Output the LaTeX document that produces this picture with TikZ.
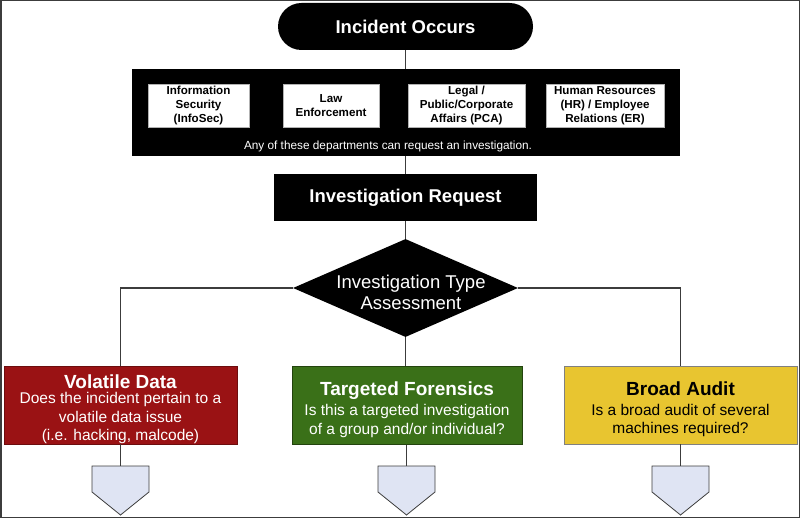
\documentclass[tikz,border=0pt]{standalone}
\usepackage{fontspec}
\setmainfont{Liberation Sans}
\usetikzlibrary{shapes.misc,shapes.geometric,positioning,calc}
\definecolor{volatilered}{RGB}{154,18,20}
\definecolor{forensicgreen}{RGB}{58,112,24}
\definecolor{audityellow}{RGB}{232,197,48}
\definecolor{arrowblue}{RGB}{223,228,243}
\definecolor{linegray}{RGB}{60,60,60}

\begin{document}
\begin{tikzpicture}[x=1pt,y=-1pt,
    blackbox/.style={fill=black, text=white, inner sep=0pt},
    deptbox/.style={fill=white, draw=black!30, inner sep=0pt, minimum height=43, align=center, font=\fontsize{11.6}{14}\selectfont\bfseries},
    casebox/.style={inner sep=0pt, minimum width=233, minimum height=78, align=center, font=\fontsize{15.5}{18.5}\selectfont},
    link/.style={linegray, line width=1.3pt},
    downarrow/.style={fill=arrowblue, draw=linegray, line width=0.8pt}]
        % frame
        \useasboundingbox (0,0) rectangle (800,518);
        \draw[linegray, line width=1.5pt] (0.75,0.75) rectangle (799.25,517.25);

        % start and departments
        \node[blackbox, rounded rectangle, minimum width=255, minimum height=47, font=\fontsize{18.5}{22}\selectfont\bfseries] (occurs) at (405.5,26.5) {Incident Occurs};
        \node[blackbox, minimum width=548, minimum height=87] (depts) at (405.5,112.5) {};
        \node[deptbox, minimum width=101] (infosec) at (198.5,105.5) {Information\\Security\\(InfoSec)};
        \node[deptbox, minimum width=96] (law) at (331,105.5) {Law\\Enforcement};
        \node[deptbox, minimum width=117] (pca) at (466.5,105.5) {Legal /\\Public/Corporate\\Affairs (PCA)};
        \node[deptbox, minimum width=118] (hr) at (605,105.5) {Human Resources\\(HR) / Employee\\Relations (ER)};
        \node[text=white, inner sep=0pt, font=\fontsize{11.8}{14}\selectfont] (anydept) at (388,146) {Any of these departments can request an investigation.};

        % request and assessment
        \node[blackbox, minimum width=263, minimum height=47, font=\fontsize{18.5}{22}\selectfont\bfseries] (request) at (405.5,197.5) {Investigation Request};
        \node[diamond, fill=black, inner sep=0pt, minimum width=225, minimum height=98] (assess) at (405.5,288) {};
        \node[text=white, inner sep=0pt, align=center, font=\fontsize{18.5}{21}\selectfont] (assesstext) at (411,292) {Investigation Type\\Assessment};

        % investigation types
        \node[casebox, fill=volatilered, draw=volatilered!70!black, text=white] (volatile) at (120.5,405)
            {{\fontsize{19}{21}\selectfont\bfseries\rule{0pt}{22pt}Volatile Data}\\[-3pt]Does the incident pertain to a\\volatile data issue\\(i.e. hacking, malcode)};
        \node[casebox, minimum width=230, fill=forensicgreen, draw=forensicgreen!60!black, text=white] (targeted) at (407,405.5)
            {{\fontsize{19}{21}\selectfont\bfseries\rule{0pt}{22pt}Targeted Forensics}\\[1.5pt]Is this a targeted investigation\\of a group and/or individual?};
        \node[casebox, fill=audityellow, draw=black!50, text=black] (broad) at (680.5,405)
            {{\fontsize{19}{21}\selectfont\bfseries\rule{0pt}{22pt}Broad Audit}\\[1.5pt]Is a broad audit of several\\machines required?};

        % next steps
        \foreach \px/\nm in {120.5/volarrow,406.5/tararrow,680.5/broarrow}{
            \draw[downarrow] (\px-28.5,466) -- (\px+28.5,466) -- (\px+28.5,492) -- (\px,515) -- (\px-28.5,492) -- cycle;
            \coordinate (\nm) at (\px,466);
        }

        % connectors
        \draw[link] (occurs.south) -- (depts.north);
        \draw[link] (depts.south) -- (request.north);
        \draw[link] (request.south) -- (assess.north);
        \draw[link] (assess.west) -| (volatile.north);
        \draw[link] (assess.east) -| (broad.north);
        \draw[link] (assess.south) -- (assess.south |- targeted.north);
        \draw[link] (volatile.south) -- (volarrow);
        \draw[link] (tararrow |- targeted.south) -- (tararrow);
        \draw[link] (broad.south) -- (broarrow);
\end{tikzpicture}
\end{document}
